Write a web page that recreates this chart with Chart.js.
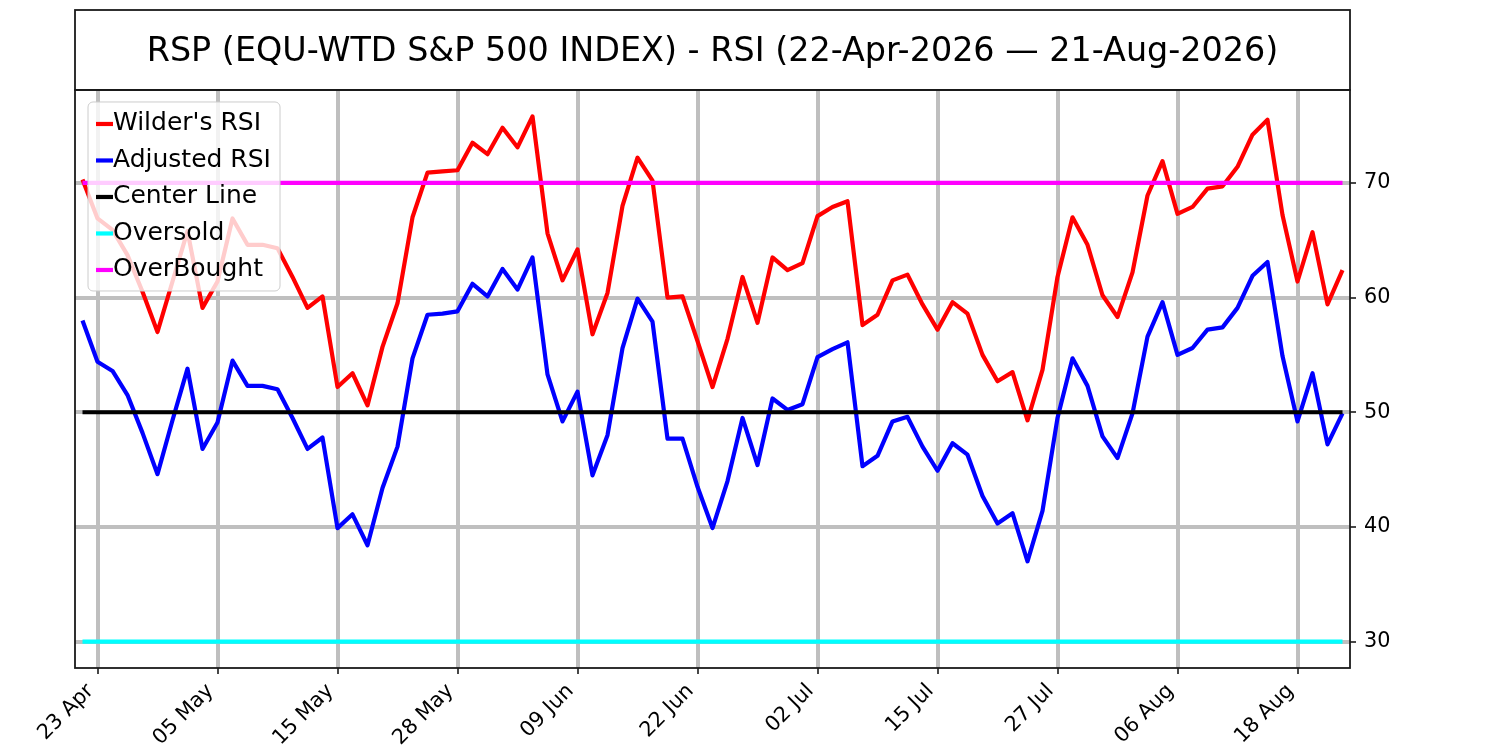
<!DOCTYPE html>
<html><head><meta charset="utf-8">
<script src="https://cdn.jsdelivr.net/npm/chart.js@4/dist/chart.umd.min.js"></script>
<style>html,body{margin:0;padding:0;background:#fff}canvas{display:block}</style>
</head><body>
<canvas id="c" width="1500" height="750"></canvas>
<script>
// ---- data ----
const dates = [
 '22 Apr','23 Apr','24 Apr','27 Apr','28 Apr','29 Apr','30 Apr',
 '01 May','04 May','05 May','06 May','07 May','08 May','11 May','12 May','13 May','14 May','15 May',
 '18 May','19 May','20 May','21 May','22 May','26 May','27 May','28 May','29 May',
 '01 Jun','02 Jun','03 Jun','04 Jun','05 Jun','08 Jun','09 Jun','10 Jun','11 Jun','12 Jun',
 '15 Jun','16 Jun','17 Jun','18 Jun','22 Jun','23 Jun','24 Jun','25 Jun','26 Jun','29 Jun','30 Jun',
 '01 Jul','02 Jul','06 Jul','07 Jul','08 Jul','09 Jul','10 Jul','13 Jul','14 Jul','15 Jul','16 Jul','17 Jul',
 '20 Jul','21 Jul','22 Jul','23 Jul','24 Jul','27 Jul','28 Jul','29 Jul','30 Jul','31 Jul',
 '03 Aug','04 Aug','05 Aug','06 Aug','07 Aug','10 Aug','11 Aug','12 Aug','13 Aug','14 Aug',
 '17 Aug','18 Aug','19 Aug','20 Aug','21 Aug'
];
const wildersRSI = [
 70.3,66.9,65.9,63.7,60.5,57.0,61.4,65.8,59.1,61.4,
 66.9,64.6,64.6,64.3,61.8,59.1,60.1,52.2,53.4,50.6,
 55.7,59.5,67.0,70.9,71.0,71.1,73.5,72.5,74.8,73.1,
 75.8,65.6,61.5,64.2,56.8,60.4,68.0,72.2,70.2,60.0,
 60.1,56.2,52.2,56.4,61.8,57.8,63.5,62.4,63.0,67.1,
 67.9,68.4,57.6,58.5,61.5,62.0,59.4,57.2,59.6,58.6,
 55.0,52.7,53.5,49.3,53.7,61.8,67.0,64.6,60.2,58.3,
 62.2,68.9,71.9,67.3,67.9,69.5,69.7,71.4,74.2,75.5,
 67.2,61.4,65.7,59.4,62.4
];
const adjustedRSI = [
 58.0,54.4,53.6,51.5,48.2,44.6,49.3,53.8,46.8,49.1,
 54.5,52.3,52.3,52.0,49.5,46.8,47.8,39.9,41.1,38.4,
 43.4,47.0,54.7,58.5,58.6,58.8,61.2,60.1,62.5,60.7,
 63.5,53.3,49.2,51.8,44.5,48.0,55.6,59.9,57.9,47.7,
 47.7,43.5,39.9,44.0,49.5,45.4,51.2,50.2,50.7,54.8,
 55.5,56.1,45.3,46.2,49.2,49.6,47.0,44.9,47.3,46.3,
 42.7,40.3,41.2,37.0,41.4,49.5,54.7,52.3,47.9,46.0,
 49.9,56.6,59.6,55.0,55.6,57.2,57.4,59.1,61.9,63.1,
 54.9,49.2,53.4,47.2,49.9
];
const CENTER_LEVEL = 50;
const OVERSOLD_LEVEL = 30;
const OVERBOUGHT_LEVEL = 70;
const xTickLabels = ['23 Apr','05 May','15 May','28 May','09 Jun','22 Jun','02 Jul','15 Jul','27 Jul','06 Aug','18 Aug'];
const yTicks = [30,40,50,60,70];
const titleText = 'RSP (EQU-WTD S&P 500 INDEX) - RSI (22-Apr-2026 \u2014 21-Aug-2026)';
const Y_MIN = 27.7, Y_MAX = 78.1;

// ---- chart ----
const FONT = 'DejaVu Sans';
Chart.defaults.font.family = FONT;
Chart.defaults.color = '#000';

function levelLine(v){ return [{x: dates[0], y: v}, {x: dates[dates.length-1], y: v}]; }
const common = {borderWidth: 4.2, pointRadius: 0, pointHoverRadius: 0, fill: false, tension: 0,
  borderJoinStyle: 'round', borderCapStyle: 'butt'};

const framePlugin = {
  id: 'frame',
  afterDatasetsDraw(chart){
    const {ctx, chartArea: a} = chart;
    ctx.save();
    ctx.strokeStyle = '#1a1a1a';
    ctx.lineWidth = 1.8;
    ctx.strokeRect(a.left, a.top, a.right - a.left, a.bottom - a.top);
    ctx.strokeRect(a.left, 10, a.right - a.left, a.top - 10);
    // legend
    const lx = a.left + 13, ly = a.top + 12, lw = 192, lh = 189, r = 5;
    ctx.beginPath();
    ctx.moveTo(lx + r, ly);
    ctx.arcTo(lx + lw, ly, lx + lw, ly + lh, r);
    ctx.arcTo(lx + lw, ly + lh, lx, ly + lh, r);
    ctx.arcTo(lx, ly + lh, lx, ly, r);
    ctx.arcTo(lx, ly, lx + lw, ly, r);
    ctx.closePath();
    ctx.fillStyle = 'rgba(255,255,255,0.8)';
    ctx.fill();
    ctx.strokeStyle = '#cccccc';
    ctx.lineWidth = 1;
    ctx.stroke();
    ctx.font = '25px "' + FONT + '"';
    ctx.textBaseline = 'middle';
    ctx.textAlign = 'left';
    chart.data.datasets.forEach((d, k) => {
      const y = ly + 22 + k * 36.5;
      ctx.beginPath();
      ctx.moveTo(lx + 8, y);
      ctx.lineTo(lx + 25, y);
      ctx.strokeStyle = d.borderColor;
      ctx.lineWidth = 4.2;
      ctx.stroke();
      ctx.fillStyle = '#000';
      ctx.fillText(d.label, lx + 25, y);
    });
    ctx.restore();
  }
};

new Chart(document.getElementById('c'), {
  type: 'line',
  data: {
    labels: dates,
    datasets: [
      Object.assign({label: "Wilder's RSI", data: wildersRSI, borderColor: '#ff0000', order: 5}, common),
      Object.assign({label: 'Adjusted RSI', data: adjustedRSI, borderColor: '#0000ff', order: 4}, common),
      Object.assign({label: 'Center Line', data: levelLine(CENTER_LEVEL), borderColor: '#000000', order: 3}, common),
      Object.assign({label: 'Oversold', data: levelLine(OVERSOLD_LEVEL), borderColor: '#00ffff', order: 2}, common),
      Object.assign({label: 'OverBought', data: levelLine(OVERBOUGHT_LEVEL), borderColor: '#ff00ff', order: 1}, common)
    ]
  },
  options: {
    responsive: false,
    animation: false,
    devicePixelRatio: 1,
    layout: {padding: {left: 75, right: 0, top: 10, bottom: 0}},
    plugins: {
      legend: {display: false},
      tooltip: {enabled: false},
      title: {
        display: true, text: titleText, fullSize: false,
        font: {size: 33.4, family: FONT, weight: 'normal', lineHeight: 1.2},
        color: '#000',
        padding: {top: 22.5, bottom: 17.4}
      }
    },
    scales: {
      x: {
        type: 'category',
        offset: true,
        afterBuildTicks: s => { s.ticks = s.ticks.filter(t => xTickLabels.includes(dates[t.value])); },
        afterFit: s => { s.height = 82; },
        grid: {offset: false, color: '#bfbfbf', lineWidth: 4, drawTicks: true, tickLength: 6, tickColor: '#1a1a1a', tickWidth: 1.6},
        border: {display: false},
        ticks: {autoSkip: false, minRotation: 45, maxRotation: 45, color: '#000', font: {size: 20.8}, padding: 5, labelOffset: -7}
      },
      y: {
        position: 'right',
        min: Y_MIN, max: Y_MAX,
        afterBuildTicks: s => { s.ticks = yTicks.map(v => ({value: v})); },
        afterFit: s => { s.width = 150; },
        grid: {color: '#bfbfbf', lineWidth: 4, drawTicks: true, tickLength: 6, tickColor: '#1a1a1a', tickWidth: 1.6},
        border: {display: false},
        ticks: {color: '#000', font: {size: 20.8}, padding: 8}
      }
    }
  },
  plugins: [framePlugin]
});
</script>
</body></html>
